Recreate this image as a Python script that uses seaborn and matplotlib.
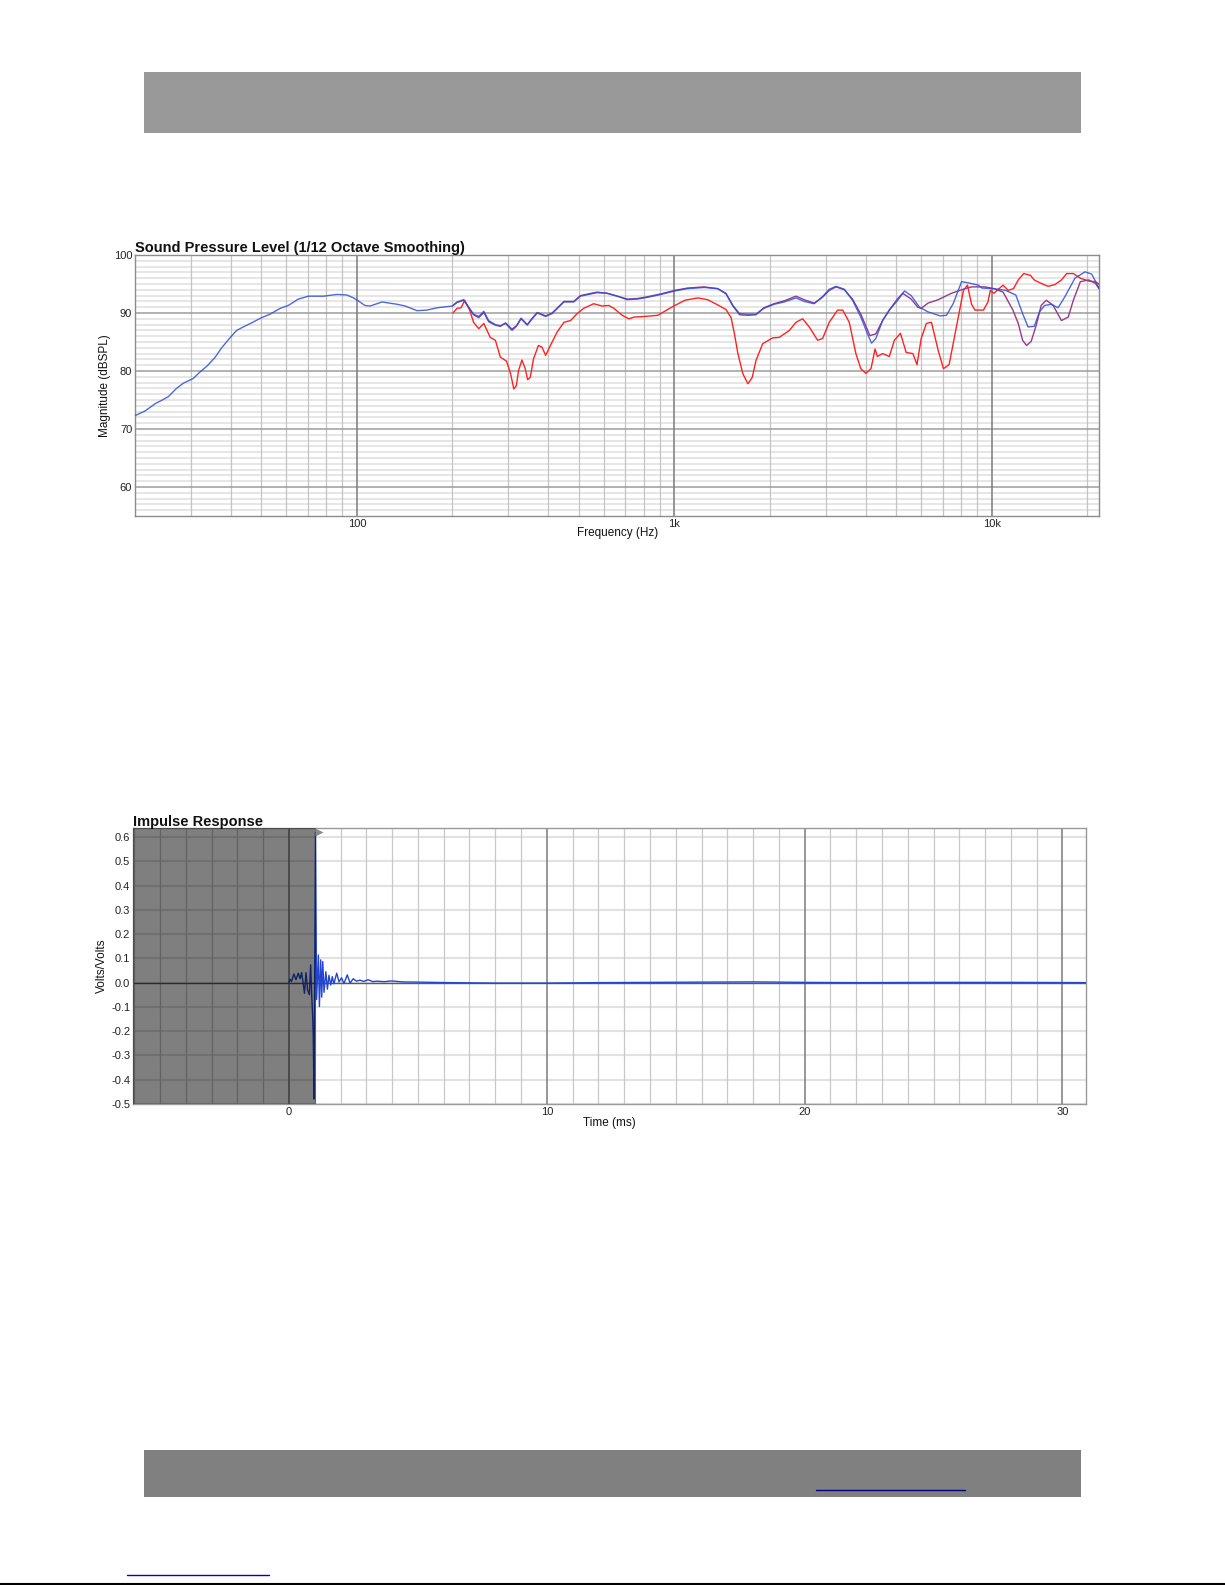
import numpy as np
import pandas as pd
import matplotlib
matplotlib.use('Agg')
import matplotlib.pyplot as plt
import matplotlib.transforms as mtransforms
import seaborn as sns
from matplotlib.patches import Rectangle
from matplotlib.lines import Line2D
from matplotlib.ticker import FixedLocator, FuncFormatter

# ---------------- data ----------------
blue_f = [20, 21.5, 23.2, 24.2, 25.5, 26.9, 28.4, 30.5, 32, 33.8, 35.8, 37.5, 39.8, 41.8, 43.9,
          46.6, 50.1, 53.3, 57.3, 60.8, 65.4, 70.4, 78.5, 86.5, 93, 97.6, 101, 106, 110, 120,
          134, 142, 154.6, 166, 179, 199.5,
          206.6, 216.8, 224.9, 233, 242, 251, 260, 273, 283, 294, 308, 318, 329, 344, 356.6,
          370, 393, 412, 432, 449, 482, 506, 537, 571, 614, 661, 711, 765, 823, 908, 1003,
          1099, 1241, 1369, 1454, 1529, 1604, 1705, 1807, 1914, 2060, 2218, 2416, 2562, 2757,
          2926, 3076, 3230, 3430, 3640, 3866, 4058, 4179, 4311, 4528, 4754, 5053, 5305, 5570,
          5918, 6290, 6875, 7196, 7553, 8030, 8430, 9078, 9305, 10150, 11050, 11900, 12500,
          13000, 13600, 14130, 14660, 15400, 16170, 16980, 18270, 19660, 20630, 22000]
blue_db = [72.3, 73.1, 74.4, 74.9, 75.6, 76.9, 77.9, 78.7, 79.8, 80.9, 82.4, 84.0, 85.7, 87.0, 87.6,
           88.3, 89.2, 89.8, 90.8, 91.3, 92.4, 92.9, 92.9, 93.2, 93.1, 92.6, 92.1, 91.3, 91.2, 91.9,
           91.5, 91.2, 90.4, 90.5, 90.9, 91.2,
           91.9, 92.3, 91.0, 89.8, 89.4, 90.3, 88.7, 88.0, 87.8, 88.2, 87.0, 87.7, 89.0, 87.9, 89.0,
           90.0, 89.4, 89.9, 91.0, 91.9, 91.9, 92.9, 93.2, 93.5, 93.4, 92.9, 92.3, 92.4, 92.7, 93.2, 93.8,
           94.2, 94.4, 94.2, 93.4, 91.3, 89.9, 89.8, 89.8, 90.8, 91.5, 91.9, 92.6, 92.0, 91.6,
           92.8, 94.1, 94.6, 94.1, 92.2, 89.3, 86.4, 84.8, 85.6, 88.7, 90.5, 92.2, 93.8, 93.0,
           91.0, 90.2, 89.5, 89.6, 91.6, 95.4, 95.2, 94.8, 94.3, 94.2, 93.9, 93.1, 89.9,
           87.6, 87.7, 90.2, 91.3, 91.5, 90.9, 92.8, 96.0, 97.1, 96.7, 93.8]

purple_f = [200, 206.6, 216.8, 224.9, 233, 242, 251, 260, 273, 283, 294, 308, 318, 329, 344, 356.6,
            370, 393, 412, 432, 449, 482, 506, 537, 571, 614, 661, 711, 765, 823, 908, 1003,
            1099, 1241, 1369, 1454, 1529, 1604, 1705, 1807, 1914, 2060, 2218, 2416, 2562, 2757,
            2926, 3076, 3230, 3430, 3640, 3866, 4129, 4311, 4528, 4754, 5053, 5241, 5570, 5844,
            5990, 6290, 6780, 7460, 8230, 8630, 9520, 10150, 10850, 11650, 12110, 12500, 12860,
            13300, 13800, 14300, 14850, 15600, 16570, 17400, 18060, 19000, 20200, 21200, 22000]
purple_db = [91.2, 91.8, 92.2, 91.0, 89.7, 89.2, 90.1, 88.5, 87.9, 87.7, 88.3, 87.2, 87.8, 89.1, 88.0, 89.1,
             90.1, 89.5, 90.0, 91.1, 92.0, 92.0, 93.0, 93.3, 93.6, 93.4, 92.9, 92.4, 92.5, 92.8, 93.3, 93.9,
             94.3, 94.5, 94.2, 93.3, 91.2, 89.7, 89.6, 89.7, 90.9, 91.6, 92.1, 92.9, 92.3, 91.7,
             92.7, 93.9, 94.5, 94.0, 92.4, 89.8, 86.1, 86.4, 88.7, 90.5, 92.5, 93.4, 92.4, 91.0,
             90.8, 91.7, 92.3, 93.4, 94.2, 94.5, 94.5, 94.2, 93.6, 90.5, 88.2, 85.3, 84.4,
             85.1, 87.9, 91.3, 92.2, 91.3, 88.7, 89.3, 92.2, 95.4, 95.7, 95.1, 93.8]

red_f = [200.7, 206.6, 213, 218.5, 226.6, 233, 242, 251, 257, 263, 273, 283, 296, 305, 312, 318, 323,
         331, 339, 345, 351.6, 360, 373, 383, 393, 407, 427, 449, 471, 494, 518, 557, 592, 621, 645,
         685, 719, 747, 805, 887, 980, 1080, 1185, 1272, 1369, 1454, 1509, 1546, 1585, 1644, 1705,
         1759, 1807, 1897, 2038, 2140, 2303, 2416, 2535, 2660, 2826, 2930, 3076, 3265, 3390, 3555,
         3730, 3866, 4012, 4162, 4287, 4361, 4528, 4754, 4931, 5153, 5372, 5640, 5810, 5990, 6220,
         6453, 6780, 7040, 7335, 7840, 8140, 8380, 8630, 8850, 9410, 9720, 9890, 10150, 10540,
         10850, 11260, 11700, 12110, 12600, 13230, 13600, 14300, 15040, 15800, 16570, 17200,
         18060, 19000, 20200, 21200, 22000]
red_db = [90.0, 90.8, 90.9, 92.2, 90.5, 88.4, 87.3, 88.2, 87.0, 85.8, 85.3, 82.4, 81.7, 79.5, 76.9, 77.5, 80.1,
          81.9, 80.4, 78.5, 78.9, 82.1, 84.4, 84.1, 82.7, 84.4, 86.7, 88.4, 88.7, 89.9, 90.8, 91.6, 91.2, 91.3, 90.8,
          89.6, 89.0, 89.3, 89.4, 89.6, 91.0, 92.2, 92.6, 92.3, 91.4, 90.6, 89.2, 86.4, 83.0, 79.5, 77.8,
          78.9, 81.8, 84.7, 85.7, 85.8, 87.0, 88.4, 89.0, 87.6, 85.3, 85.6, 88.4, 90.5, 90.5, 88.4,
          83.0, 80.4, 79.6, 80.4, 83.8, 82.5, 83.0, 82.5, 85.3, 86.5, 83.2, 83.0, 81.1, 85.6, 88.2,
          88.4, 83.5, 80.4, 81.1, 89.3, 93.9, 94.8, 91.5, 90.5, 90.5, 91.9, 93.9, 93.4, 94.2,
          94.8, 93.9, 94.2, 95.7, 96.8, 96.5, 95.7, 95.1, 94.6, 94.9, 95.7, 96.8,
          96.8, 96.0, 95.5, 95.4, 94.8]

spl_xticks = [100, 1000, 10000]
spl_xticklabels = ['100', '1k', '10k']
spl_yticks = [60, 70, 80, 90, 100]

imp_t = [0.00, 0.04, 0.10, 0.19, 0.27, 0.36, 0.43, 0.49, 0.56, 0.60, 0.66, 0.72, 0.79, 0.84, 0.88,
         0.92, 0.94, 0.97, 1.03, 1.07, 1.14, 1.18, 1.23, 1.27, 1.31, 1.36, 1.43, 1.49, 1.55, 1.62,
         1.68, 1.74, 1.85, 1.94, 2.04, 2.13, 2.26, 2.37, 2.49, 2.62, 2.75, 2.90, 3.07, 3.25, 3.40,
         3.70, 3.97, 4.40, 5.05, 6.20, 8.0, 10.0, 12.0, 14.0, 16.0, 18.0, 20.0, 22.0, 25.0, 28.0, 30.9]
imp_v = [0.000, 0.014, 0.005, 0.036, 0.012, 0.039, 0.016, 0.041, -0.010, -0.044, 0.041, -0.030, -0.050, 0.073, -0.051,
         -0.140, -0.209, -0.480, 0.620, -0.070, 0.114, -0.099, 0.094, -0.060, 0.087, -0.040, 0.045, -0.027, 0.030, -0.010,
         0.025, -0.005, 0.039, 0.003, 0.020, -0.004, 0.032, -0.002, 0.016, 0.006, 0.010, 0.005, 0.012, 0.004, 0.006,
         0.004, 0.007, 0.003, 0.002, 0.000, -0.002, -0.002, 0.000, 0.001, 0.002, 0.003, 0.001, 0.000, 0.001, 0.001, 0.000]
imp_window_end = 1.03
imp_xticks = [0, 10, 20, 30]
imp_yticks = [-0.5, -0.4, -0.3, -0.2, -0.1, 0.0, 0.1, 0.2, 0.3, 0.4, 0.5, 0.6]

# ---------------- style ----------------
sns.set_theme(style='white')
plt.rcParams['font.family'] = ['Liberation Sans', 'DejaVu Sans']
plt.rcParams['axes.unicode_minus'] = False

W, H = 1225, 1585
fig = plt.figure(figsize=(W / 100, H / 100), dpi=100)
fig.patch.set_facecolor('white')


def fig_rect(x0, y0, x1, y1, color):
    fig.add_artist(Rectangle((x0 / W, 1 - y1 / H), (x1 - x0) / W, (y1 - y0) / H,
                             transform=fig.transFigure, facecolor=color, edgecolor='none', zorder=0))


def fig_hline(x0, x1, y, color, lw):
    fig.add_artist(Line2D([x0 / W, x1 / W], [1 - y / H, 1 - y / H], transform=fig.transFigure,
                          color=color, lw=lw))


# header / footer bars
fig_rect(144, 72, 1081, 133, '#999999')
fig_rect(144, 1450, 1081, 1497, '#808080')
fig_hline(816, 965, 1489.5, '#000080', 1.0)
fig_hline(127, 269, 1575, '#0000cc', 1.0)
fig_hline(0, W, 1584, '#000000', 1.5)

tick_fs = 8
label_fs = 8.5
title_fs = 10.5

# ---------------- SPL chart ----------------
ax1 = fig.add_axes([135 / W, 1 - 516 / H, (1099.3 - 135) / W, (516 - 255) / H])
spl_df = pd.concat([
    pd.DataFrame({'f': red_f, 'db': red_db, 's': 'red'}),
    pd.DataFrame({'f': purple_f, 'db': purple_db, 's': 'purple'}),
    pd.DataFrame({'f': blue_f, 'db': blue_db, 's': 'blue'}),
])
palette = {'red': '#ff2222', 'purple': '#953a8e', 'blue': '#2f4fd4'}
for name, alpha in [('red', 1.0), ('purple', 1.0), ('blue', 0.85)]:
    sub = spl_df[spl_df['s'] == name]
    sns.lineplot(data=sub, x='f', y='db', color=palette[name], lw=1.0, alpha=alpha,
                 estimator=None, sort=True, ax=ax1, zorder=3)
ax1.set_xscale('log')
ax1.set_xlim(20, 21800)
ax1.set_ylim(55, 100)
ax1.xaxis.set_major_locator(FixedLocator(spl_xticks))
ax1.xaxis.set_major_formatter(FuncFormatter(
    lambda v, p: spl_xticklabels[spl_xticks.index(int(round(v)))] if int(round(v)) in spl_xticks else ''))
ax1.xaxis.set_minor_locator(FixedLocator([]))
ax1.yaxis.set_major_locator(FixedLocator(spl_yticks))
ax1.grid(False)
# grid lines (drawn explicitly to control stacking)
for d in range(56, 100):
    if d % 10:
        ax1.axhline(d, color='#e4e4e4', lw=1.3, zorder=0.5)
minors = [m * d for d in (10, 100, 1000, 10000) for m in range(2, 10) if 20 < m * d < 21800]
for f in minors:
    ax1.axvline(f, color='#c4c4c4', lw=0.9, zorder=0.6)
for d in spl_yticks:
    ax1.axhline(d, color='#9c9c9c', lw=1.1, zorder=0.7)
for f in spl_xticks:
    ax1.axvline(f, color='#7a7a7a', lw=1.1, zorder=0.8)
ax1.tick_params(which='both', length=0, labelsize=tick_fs, pad=2, colors='#222222')
for sp in ax1.spines.values():
    sp.set_color('#8c8c8c')
    sp.set_linewidth(1.0)
ax1.set_title('Sound Pressure Level (1/12 Octave Smoothing)', loc='left', fontsize=title_fs,
              fontweight='bold', pad=2, color='#111111')
ax1.set_xlabel('Frequency (Hz)', fontsize=label_fs, color='#111111')
ax1.set_ylabel('Magnitude (dBSPL)', fontsize=label_fs, color='#111111')
ax1.xaxis.set_label_coords(0.5, -0.042)
ax1.yaxis.set_label_coords(-0.0252, 0.5)

# ---------------- Impulse chart ----------------
ax2 = fig.add_axes([133 / W, 1 - 1104 / H, (1085.7 - 133) / W, (1104 - 828.3) / H])
imp_df = pd.DataFrame({'t': imp_t, 'v': imp_v})
sns.lineplot(data=imp_df, x='t', y='v', color='#2346d0', lw=1.0, estimator=None, sort=False,
             ax=ax2, zorder=3)
ax2.set_xlim(-6.05, 30.9)
ax2.set_ylim(-0.501, 0.637)
ax2.xaxis.set_major_locator(FixedLocator(imp_xticks))
ax2.yaxis.set_major_locator(FixedLocator(imp_yticks))
ax2.yaxis.set_major_formatter(FuncFormatter(lambda v, p: f'{v:.1f}'))
ax2.grid(False)
for v in imp_yticks:
    ax2.axhline(v, color='#e2e2e2', lw=1.5, zorder=0.5)
for t in range(-6, 31):
    if t % 10:
        ax2.axvline(t, color='#c8c8c8', lw=0.9, zorder=0.6)
for t in imp_xticks:
    ax2.axvline(t, color='#7a7a7a', lw=1.1, zorder=0.8)
ax2.axhline(0, color='#5a5a5a', lw=1.0, zorder=0.9)
ax2.axvspan(-6.05, imp_window_end, facecolor='black', alpha=0.5, lw=0, zorder=4)
blend = mtransforms.blended_transform_factory(ax2.transData, ax2.transAxes)
ax2.plot([imp_window_end + 0.13], [0.985], marker='>', ms=6, color='#8a8a8a', mec='none',
         transform=blend, clip_on=False, zorder=6)
ax2.tick_params(which='both', length=0, labelsize=tick_fs, pad=2, colors='#222222')
for sp in ax2.spines.values():
    sp.set_color('#999999')
    sp.set_linewidth(1.0)
ax2.set_title('Impulse Response', loc='left', fontsize=title_fs, fontweight='bold', pad=2,
              color='#111111')
ax2.set_xlabel('Time (ms)', fontsize=label_fs, color='#111111')
ax2.set_ylabel('Volts/Volts', fontsize=label_fs, color='#111111')
ax2.xaxis.set_label_coords(0.5, -0.047)
ax2.yaxis.set_label_coords(-0.026, 0.5)

fig.savefig('out.png', dpi=100, facecolor='white')
